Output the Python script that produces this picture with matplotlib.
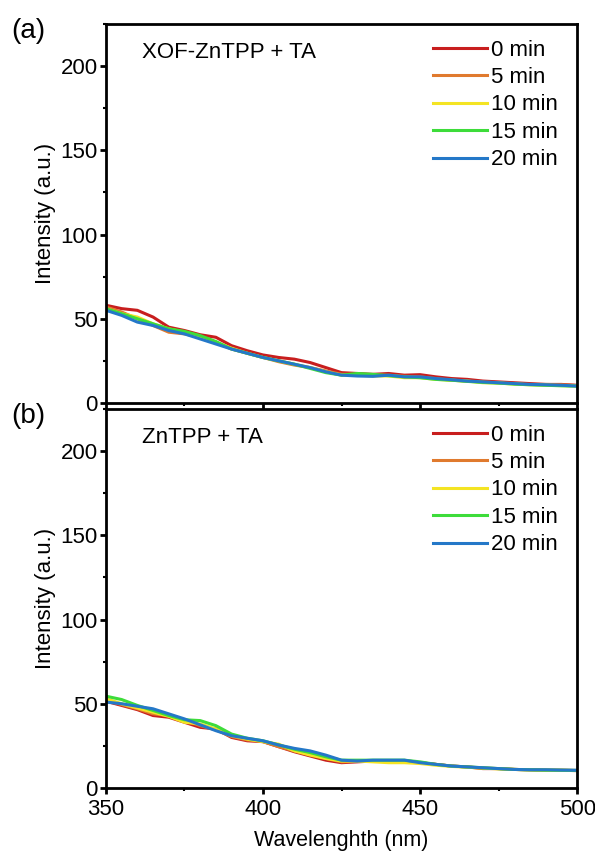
import numpy as np
import matplotlib
matplotlib.use("Agg")
import matplotlib.pyplot as plt
from matplotlib.ticker import MultipleLocator

plt.rcParams['font.family'] = ['Liberation Sans', 'DejaVu Sans']

# data (5 nm steps)
wl = list(range(350, 505, 5))
labels = ["0 min", "5 min", "10 min", "15 min", "20 min"]
colors = ["#c81e1e", "#e07a2e", "#f4e423", "#3ddc3a", "#2478c8"]

top_red    = [58, 56, 55, 51, 45, 43, 40.5, 39, 34, 31, 28.5, 27, 26, 24, 21, 18, 17.5, 17, 17.5, 16.5, 16.8, 15.5, 14.5, 14, 13, 12.5, 12, 11.5, 11, 11, 10.5]
top_orange = [57, 54, 50, 46, 42, 41, 39, 36, 32, 29.5, 27, 24.5, 22.5, 21, 19, 17, 17, 16.5, 16.5, 15.8, 15.5, 14.5, 13.5, 13, 12.5, 12, 11.5, 11, 11, 10.8, 10.3]
top_yellow = [56, 53, 51, 47, 44, 42, 39, 36, 32.5, 29.5, 27, 25, 23, 21, 18.5, 16.5, 16.5, 16, 16, 15, 15, 14, 13.5, 13, 12, 11.8, 11.2, 10.8, 10.5, 10.3, 10]
top_green  = [56, 53, 50, 47, 44, 42.5, 40, 36.5, 32, 29.5, 27, 25, 23, 20.5, 18, 16.5, 17.5, 17, 16.2, 15.5, 15, 14, 13.5, 12.8, 12.2, 11.8, 11.2, 10.8, 10.5, 10.2, 10]
top_blue   = [55, 52, 48, 46, 43, 41, 38, 35, 32, 29.5, 27, 25, 23, 21, 18.5, 16.5, 16, 15.8, 16.5, 15.5, 15.5, 14.5, 13.8, 13, 12.5, 12, 11.5, 11, 10.8, 10.5, 10]

bot_red    = [51.5, 49, 46.5, 43, 42, 39, 36, 35, 30, 28, 27.5, 24.5, 21.5, 19, 16.5, 15, 15.5, 16, 15.5, 15.5, 15, 14, 13, 12.5, 11.5, 11.5, 11, 10.8, 10.5, 10.5, 10.3]
bot_orange = [52, 49.5, 47, 44, 43, 40, 37, 34.5, 30.5, 28.5, 27.5, 24.5, 22, 20, 17.5, 15.5, 15.8, 16, 15.8, 15.5, 15, 14, 13, 12.5, 11.8, 11.5, 11, 10.8, 10.6, 10.5, 10.4]
bot_yellow = [53, 50, 47.5, 45, 42.5, 39, 38, 35, 31, 29, 27.5, 26, 22, 19.5, 17.5, 16, 16, 15.5, 15, 15, 14.5, 13.5, 12.8, 12.3, 11.8, 11.3, 11, 10.7, 10.5, 10.5, 10.3]
bot_green  = [54.5, 52.5, 49, 46, 43, 40.5, 40, 37, 32, 29.5, 28, 25.5, 23, 21, 18.5, 16.5, 16.5, 16.5, 16.5, 16.5, 15.5, 14, 13, 12.5, 12, 11.5, 11, 10.8, 10.6, 10.5, 10.4]
bot_blue   = [51, 50, 48.5, 47, 44, 41, 37.5, 34, 31, 29.5, 28, 25.5, 23.5, 22, 19.5, 16.5, 16, 16.5, 16.5, 16.5, 15, 14, 13, 12.5, 12, 11.5, 11, 10.8, 10.8, 10.6, 10.5]

top_sets = [top_red, top_orange, top_yellow, top_green, top_blue]
bot_sets = [bot_red, bot_orange, bot_yellow, bot_green, bot_blue]

fig = plt.figure(figsize=(5.95, 8.59), dpi=100)
ax1 = fig.add_axes([0.178, 0.5309, 0.792, 0.4412])
ax2 = fig.add_axes([0.178, 0.0827, 0.792, 0.4412])

def setup(ax, sets, title, tag, showx):
    for ys, c, lab in zip(sets, colors, labels):
        ax.plot(wl, ys, color=c, lw=2.2, label=lab)
    ax.set_xlim(350, 500)
    ax.set_ylim(0, 225)
    ax.xaxis.set_major_locator(MultipleLocator(50))
    ax.xaxis.set_minor_locator(MultipleLocator(25))
    ax.yaxis.set_major_locator(MultipleLocator(50))
    ax.yaxis.set_minor_locator(MultipleLocator(25))
    for s in ax.spines.values():
        s.set_linewidth(2)
    ax.tick_params(which='major', direction='out', length=4, width=2, labelsize=16)
    ax.tick_params(which='minor', direction='out', length=2.5, width=1.5)
    ax.tick_params(axis='y', which='major', pad=2)
    ax.tick_params(axis='x', which='major', pad=4)
    if not showx:
        ax.tick_params(axis='x', labelbottom=False)
    ax.set_ylabel("Intensity (a.u.)", fontsize=16, labelpad=3)
    ax.text(0.076, 0.926, title, transform=ax.transAxes, fontsize=16, va='center', ha='left')
    ax.text(-0.2, 0.982, tag, transform=ax.transAxes, fontsize=20, va='center', ha='left')
    ax.legend(loc='upper right', bbox_to_anchor=(0.993, 1.0), frameon=False, fontsize=16,
              handlelength=2.4, handletextpad=0.22, labelspacing=0.29, borderaxespad=0.3)

setup(ax1, top_sets, "XOF-ZnTPP + TA", "(a)", False)
setup(ax2, bot_sets, "ZnTPP + TA", "(b)", True)
ax2.set_xlabel("Wavelenghth (nm)", fontsize=15.5, labelpad=7)

fig.savefig("out.png", dpi=100)
